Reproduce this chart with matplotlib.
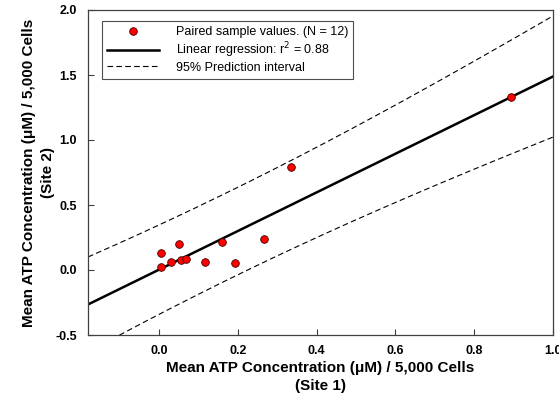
import numpy as np
import matplotlib
matplotlib.use("Agg")
import matplotlib.pyplot as plt

plt.rcParams['font.family'] = ['Liberation Sans', 'DejaVu Sans']

# paired sample values
site1 = [0.004, 0.004, 0.030, 0.050, 0.057, 0.068, 0.116, 0.159, 0.193, 0.266, 0.334, 0.893]
site2 = [0.128, 0.020, 0.059, 0.198, 0.074, 0.087, 0.059, 0.218, 0.054, 0.238, 0.792, 1.331]
x_ticks = [0.0, 0.2, 0.4, 0.6, 0.8, 1.0]
y_ticks = [-0.5, 0.0, 0.5, 1.0, 1.5, 2.0]
T_95 = 2.228  # t(0.975, df=10)

x = np.array(site1)
y = np.array(site2)
n = len(x)
slope, icpt = np.polyfit(x, y, 1)
resid = y - (slope * x + icpt)
s = np.sqrt(np.sum(resid**2) / (n - 2))
sxx = np.sum((x - x.mean())**2)

xx = np.linspace(-0.18, 1.0, 200)
yfit = slope * xx + icpt
half = T_95 * s * np.sqrt(1 + 1 / n + (xx - x.mean())**2 / sxx)

fig = plt.figure(figsize=(5.59, 3.98), dpi=100)
ax = fig.add_axes([88 / 559, 1 - 335 / 398, (553 - 88) / 559, (335 - 10) / 398])

ax.plot(x, y, 'o', ms=5.5, mfc='#ff0000', mec='#400000', mew=0.6, zorder=5,
        label="Paired sample values. (N = 12)")
ax.plot(xx, yfit, c='k', lw=1.8, label=r"Linear regression: r$^2$ = 0.88")
ax.plot(xx, yfit + half, c='k', lw=0.8, ls=(0, (5, 3)), label="95% Prediction interval")
ax.plot(xx, yfit - half, c='k', lw=0.8, ls=(0, (5, 3)))

ax.set_xlim(-0.18, 1.0)
ax.set_ylim(-0.5, 2.0)
ax.set_xticks(x_ticks)
ax.set_yticks(y_ticks)
ax.set_xticklabels([f"{v:.1f}" for v in x_ticks])
ax.set_yticklabels([f"{v:.1f}" for v in y_ticks])
ax.tick_params(direction='in', length=4, width=0.8, color='#404040', labelsize=9)
ax.tick_params(axis='x', pad=7)
ax.tick_params(axis='y', pad=8)
for lab in ax.get_xticklabels() + ax.get_yticklabels():
    lab.set_fontweight('bold')
for sp in ax.spines.values():
    sp.set_color('#404040')
    sp.set_linewidth(0.9)

ax.set_xlabel("Mean ATP Concentration (μM) / 5,000 Cells\n(Site 1)",
              fontsize=11, fontweight='bold', linespacing=1.4, labelpad=3)
ax.set_ylabel("Mean ATP Concentration (μM) / 5,000 Cells\n(Site 2)",
              fontsize=11, fontweight='bold', linespacing=1.5, labelpad=0)

leg = ax.legend(loc='upper left', bbox_to_anchor=(0.03, 0.965), fontsize=9,
                frameon=True, fancybox=False, edgecolor='#202020',
                handlelength=4.2, borderpad=0.4, labelspacing=0.15,
                handletextpad=1.3, borderaxespad=0)
leg.get_frame().set_linewidth(0.8)

fig.savefig("out.png", dpi=100)
